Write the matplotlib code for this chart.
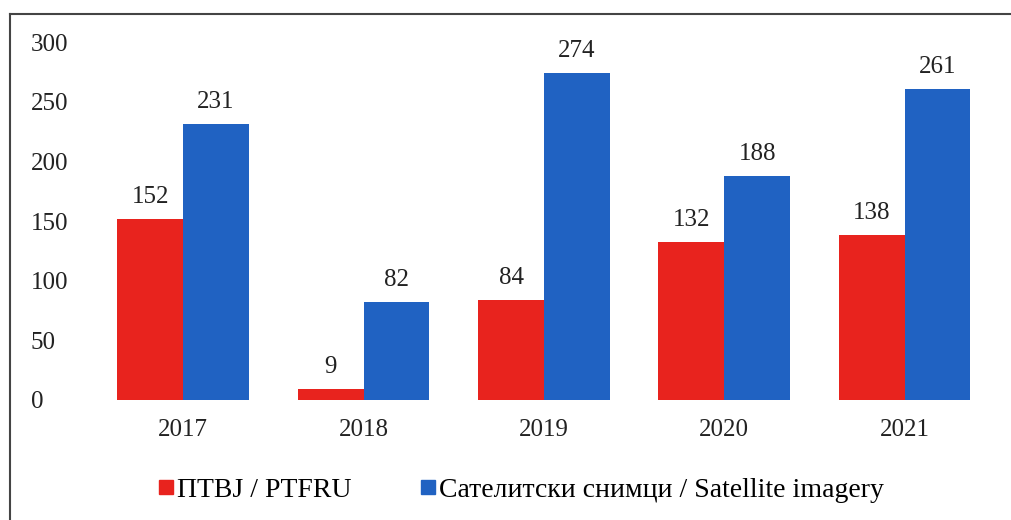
import numpy as np
import matplotlib
matplotlib.use("Agg")
import matplotlib.pyplot as plt
from matplotlib.lines import Line2D

plt.rcParams['font.family'] = ['Liberation Serif', 'DejaVu Serif']

years = ['2017', '2018', '2019', '2020', '2021']
ptfru = [152, 9, 84, 132, 138]
satellite = [231, 82, 274, 188, 261]
labels = ['ПТВЈ / PTFRU', 'Сателитски снимци / Satellite imagery']

RED = '#E8231E'
BLUE = '#2062C2'
FONTSIZE = 18
BAR_W = 0.365

fig = plt.figure(figsize=(10.11, 5.2), dpi=100)
ax = fig.add_axes([0.092, 0.231, 0.892, 0.688])

x = np.arange(len(years))
b1 = ax.bar(x - BAR_W / 2, ptfru, BAR_W, color=RED, label=labels[0])
b2 = ax.bar(x + BAR_W / 2, satellite, BAR_W, color=BLUE, label=labels[1])

for bars in (b1, b2):
    for rect in bars:
        h = rect.get_height()
        ax.annotate(f"{h:d}", (rect.get_x() + rect.get_width() / 2, h),
                    xytext=(0, 8), textcoords='offset points',
                    ha='center', va='bottom', fontsize=FONTSIZE, color='#222222')

ax.set_xlim(-0.5, len(years) - 0.5)
ax.set_ylim(0, 300)
ax.set_yticks(np.arange(0, 301, 50))
ax.set_xticks(x)
ax.set_xticklabels(years)
ax.tick_params(length=0, labelsize=FONTSIZE, colors='#222222')
ax.tick_params(axis='x', pad=14)
ax.tick_params(axis='y', pad=45)
for t in ax.get_yticklabels():
    t.set_horizontalalignment('left')
for s in ax.spines.values():
    s.set_visible(False)

handles = [Line2D([], [], marker='s', ls='none', color=RED, markersize=10),
           Line2D([], [], marker='s', ls='none', color=BLUE, markersize=10)]
fig.legend(handles, labels, loc='center', bbox_to_anchor=(0.514, 0.058),
           ncol=2, frameon=False, fontsize=20, handletextpad=0.05,
           columnspacing=2.4, handlelength=0.7)

# frame around the figure (top and left edges visible, rest cropped)
fig.add_artist(Line2D([10 / 1011, 1.0], [1 - 14 / 520, 1 - 14 / 520],
                      transform=fig.transFigure, color='#444444', lw=1.5))
fig.add_artist(Line2D([10 / 1011, 10 / 1011], [1 - 14 / 520, 0.0],
                      transform=fig.transFigure, color='#444444', lw=1.5))

fig.savefig("out.png", dpi=100)
